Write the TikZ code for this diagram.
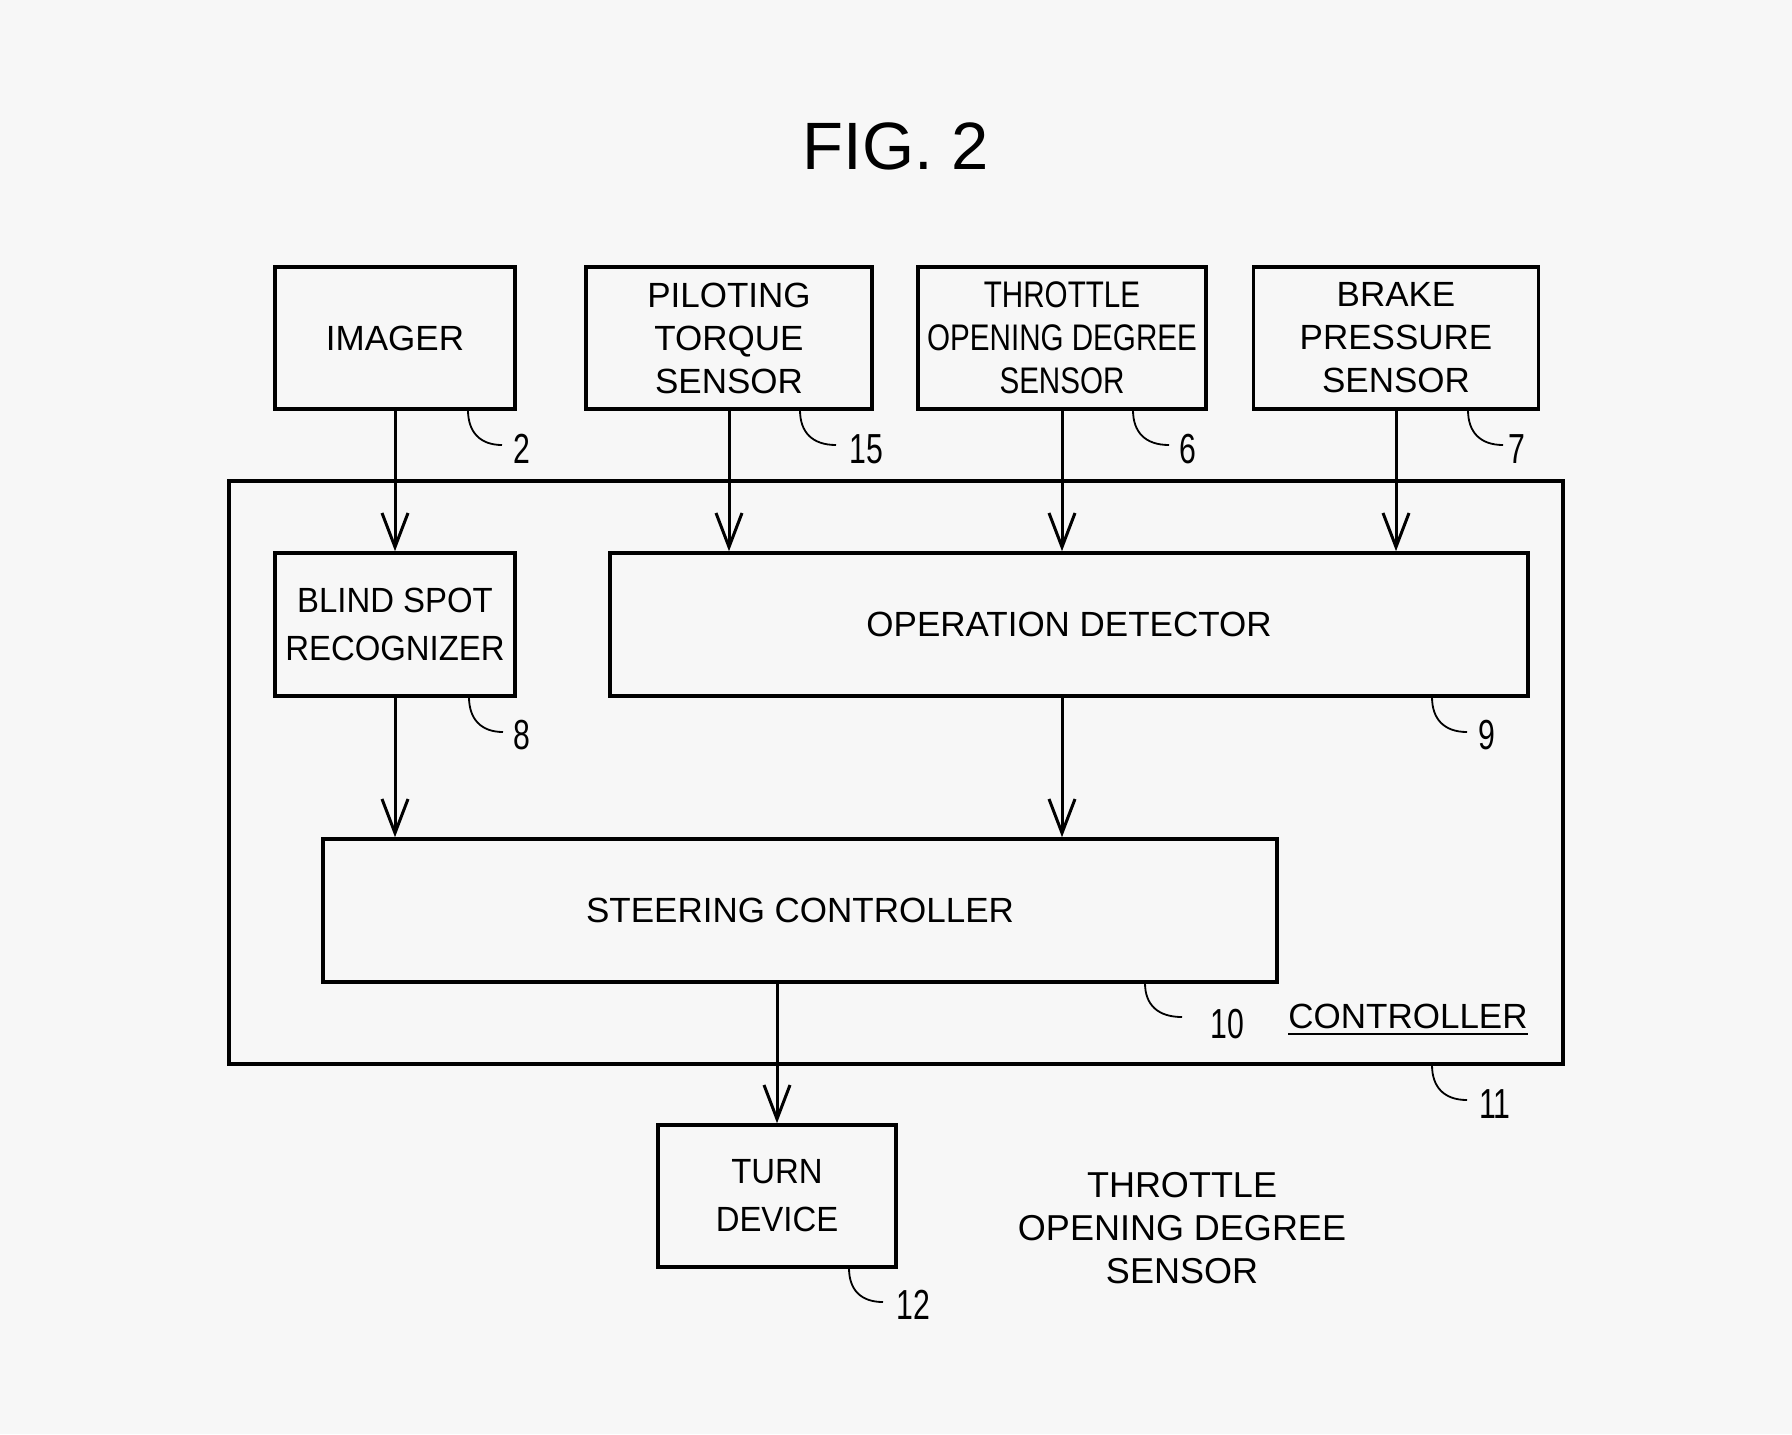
\documentclass[tikz,border=0pt]{standalone}
\usepackage{fontspec}
\setmainfont{Liberation Sans}
\newfontfamily\condfont[FakeStretch=0.8]{Liberation Sans}
\newfontfamily\semifont[FakeStretch=0.94]{Liberation Sans}
\newfontfamily\numfont[FakeStretch=0.72]{Liberation Sans}
\usetikzlibrary{arrows.meta}
\definecolor{bg}{RGB}{247,247,247}
\begin{document}
\begin{tikzpicture}[x=0.5pt,y=-0.5pt,
  blk/.style={draw,line width=1.8pt,inner sep=0pt,align=center,
    font=\fontsize{17.5}{21.5}\selectfont},
  wide/.style={font=\semifont\fontsize{17.5}{24}\selectfont},
  arr/.style={line width=1.5pt,-{Straight Barb[length=17pt,width=13pt,line width=1.5pt]}},
  leader/.style={line width=0.9pt},
  num/.style={inner sep=0pt,font=\numfont\fontsize{21}{21}\selectfont},
  txt/.style={inner sep=0pt,align=center}]
\useasboundingbox (0,0) rectangle (1792,1434);
\fill[bg] (0,0) rectangle (1792,1434);

\node[txt,font=\fontsize{33.5}{34}\selectfont] (fig) at (896,146) {FIG. 2};

% controller frame
\node[draw,line width=1.7pt,minimum width=667pt,minimum height=291.5pt,inner sep=0pt] (ctrl) at (896,772.5) {};

% top sensors
\node[blk,minimum width=120pt,minimum height=71pt] (img) at (395,338) {IMAGER};
\node[blk,minimum width=143pt,minimum height=71pt] (pil) at (729,338) {PILOTING\\TORQUE\\SENSOR};
\node[blk,minimum width=144pt,minimum height=71pt,font=\condfont\fontsize{18.5}{21.5}\selectfont] (thr) at (1062,338) {THROTTLE\\OPENING DEGREE\\SENSOR};
\node[blk,minimum width=142.5pt,minimum height=71pt] (brk) at (1396,338) {BRAKE\\PRESSURE\\SENSOR};

% inner blocks
\node[blk,wide,minimum width=120pt,minimum height=71.5pt] (bsr) at (395,624.5) {BLIND SPOT\\RECOGNIZER};
\node[blk,minimum width=459pt,minimum height=71.5pt] (opd) at (1069,624.5) {OPERATION DETECTOR};
\node[blk,minimum width=477pt,minimum height=71.5pt] (stc) at (800,910.5) {STEERING CONTROLLER};
\node[blk,wide,minimum width=119pt,minimum height=71pt] (trn) at (777,1196) {TURN\\DEVICE};

% arrows
\draw[arr] (img.south) -- (bsr.north);
\draw[arr] (pil.south) -- (pil.south |- opd.north);
\draw[arr] (thr.south) -- (thr.south |- opd.north);
\draw[arr] (brk.south) -- (brk.south |- opd.north);
\draw[arr] (bsr.south) -- (bsr.south |- stc.north);
\draw[arr] (thr.south |- opd.south) -- (thr.south |- stc.north);
\draw[arr] (trn.north |- stc.south) -- (trn.north);

% reference numerals
\draw[leader] (468,410) .. controls (468,432) and (480,445) .. (502,445);
\node[num] (n2) at (522,449) {2};
\draw[leader] (800,410) .. controls (800,432) and (812,445) .. (836,445);
\node[num] (n15) at (866,449) {15};
\draw[leader] (1133,410) .. controls (1133,432) and (1145,445) .. (1169,445);
\node[num] (n6) at (1188,449) {6};
\draw[leader] (1468,410) .. controls (1468,432) and (1480,445) .. (1503,445);
\node[num] (n7) at (1517,449) {7};
\draw[leader] (469,697) .. controls (469,719) and (481,732) .. (503,732);
\node[num] (n8) at (522,735) {8};
\draw[leader] (1432,697) .. controls (1432,719) and (1444,732) .. (1467,732);
\node[num] (n9) at (1487,735) {9};
\draw[leader] (1145,983) .. controls (1145,1005) and (1158,1017) .. (1182,1017);
\node[num] (n10) at (1227,1024) {10};
\draw[leader] (1432,1065) .. controls (1432,1087) and (1444,1100) .. (1467,1100);
\node[num] (n11) at (1495,1104) {11};
\draw[leader] (849,1268) .. controls (849,1290) and (861,1302) .. (883,1302);
\node[num] (n12) at (913,1305) {12};

% controller label
\node[inner sep=0pt,anchor=base,font=\fontsize{17.5}{21}\selectfont] (clab) at (1408,1028) {CONTROLLER};
\draw[line width=1.4pt] ([yshift=-3pt]clab.base west) -- ([yshift=-3pt]clab.base east);

% free text
\node[txt,font=\fontsize{18}{21.5}\selectfont] (free) at (1182,1228) {THROTTLE\\OPENING DEGREE\\SENSOR};
\end{tikzpicture}
\end{document}
